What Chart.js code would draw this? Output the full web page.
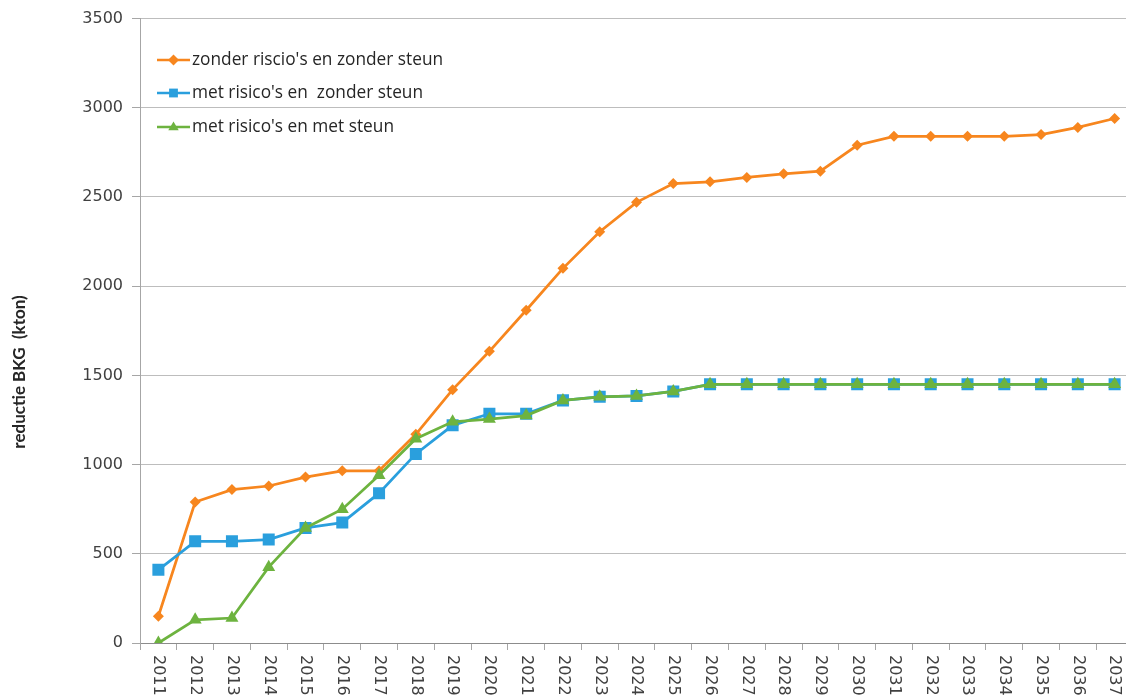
<!DOCTYPE html>
<html lang="nl">
<head>
    <meta charset="UTF-8">
    <title>Reductie BKG</title>
    <script src="https://cdn.jsdelivr.net/npm/chart.js"></script>
    <style>
        body {
            margin: 0;
            padding: 0;
            background: #fff;
            overflow: hidden;
        }
        #wrap {
            width: 1126px;
            height: 696px;
            overflow: hidden;
            position: relative;
        }
    </style>
</head>
<body>
    <!-- plot runs past the right edge, as in the cropped original -->
    <div id="wrap"><canvas id="bkgChart" width="1133" height="696"></canvas></div>
    <script>
        const years = ['2011', '2012', '2013', '2014', '2015', '2016', '2017', '2018', '2019', '2020',
            '2021', '2022', '2023', '2024', '2025', '2026', '2027', '2028', '2029', '2030',
            '2031', '2032', '2033', '2034', '2035', '2036', '2037'];
        const zonderRisicoZonderSteun = [150, 790, 860, 880, 930, 965, 965, 1170, 1420, 1635,
            1865, 2100, 2305, 2470, 2575, 2585, 2610, 2630, 2645, 2790,
            2840, 2840, 2840, 2840, 2850, 2890, 2940];
        const metRisicoZonderSteun = [410, 570, 570, 580, 645, 675, 840, 1060, 1220, 1285,
            1285, 1360, 1380, 1385, 1410, 1450, 1450, 1450, 1450, 1450,
            1450, 1450, 1450, 1450, 1450, 1450, 1450];
        const metRisicoMetSteun = [0, 130, 140, 425, 645, 750, 940, 1145, 1240, 1255,
            1275, 1360, 1380, 1385, 1410, 1450, 1450, 1450, 1450, 1450,
            1450, 1450, 1450, 1450, 1450, 1450, 1450];
        const yMax = 3500;
        const yStep = 500;

        const seriesLabels = ["zonder riscio's en zonder steun", "met risico's en  zonder steun", "met risico's en met steun"];
        const orange = '#F7861E';
        const blue = '#2A9FDD';
        const green = '#6DB33F';

        const textColor = '#404040';
        const tickFont = '16px "DejaVu Sans"';

        function drawMarker(ctx, style, x, y, r, color) {
            ctx.fillStyle = color;
            ctx.beginPath();
            if (style === 'rectRot') {
                ctx.moveTo(x, y - r); ctx.lineTo(x + r, y); ctx.lineTo(x, y + r); ctx.lineTo(x - r, y);
            } else if (style === 'rect') {
                ctx.rect(x - r * 0.8, y - r * 0.8, r * 1.6, r * 1.6);
            } else {
                ctx.moveTo(x, y - r); ctx.lineTo(x + r * 0.95, y + r * 0.6); ctx.lineTo(x - r * 0.95, y + r * 0.6);
            }
            ctx.closePath();
            ctx.fill();
        }

        // x labels (rotated clockwise), y title and legend inside the plot
        const extras = {
            id: 'extras',
            afterDraw(chart) {
                const ctx = chart.ctx;
                const xs = chart.scales.x;
                const area = chart.chartArea;
                ctx.save();
                ctx.font = tickFont;
                ctx.fillStyle = textColor;
                ctx.textAlign = 'left';
                ctx.textBaseline = 'middle';
                years.forEach((yr, i) => {
                    ctx.save();
                    ctx.translate(xs.getPixelForValue(i), area.bottom + 12);
                    ctx.rotate(Math.PI / 2);
                    ctx.fillText(yr, 0, 0);
                    ctx.restore();
                });

                ctx.save();
                ctx.font = 'bold 17px Lato';
                ctx.fillStyle = '#262626';
                ctx.textAlign = 'center';
                ctx.textBaseline = 'middle';
                ctx.translate(20, 372);
                ctx.rotate(-Math.PI / 2);
                ctx.fillText('reductie BKG  (kton)', 0, 0);
                ctx.restore();

                const legendY = [60, 93, 127];
                ctx.font = '17.3px "Open Sans"';
                chart.data.datasets.forEach((ds, i) => {
                    const y = legendY[i];
                    ctx.strokeStyle = ds.borderColor;
                    ctx.lineWidth = 2.5;
                    ctx.beginPath();
                    ctx.moveTo(157, y);
                    ctx.lineTo(190, y);
                    ctx.stroke();
                    drawMarker(ctx, ds.pointStyle, 173.5, y, 5.5, ds.borderColor);
                    ctx.fillStyle = '#262626';
                    ctx.textAlign = 'left';
                    ctx.fillText(ds.label, 192, y);
                });
                ctx.restore();
            }
        };

        const ctx = document.getElementById('bkgChart').getContext('2d');
        new Chart(ctx, {
            type: 'line',
            data: {
                labels: years,
                datasets: [{
                    label: seriesLabels[0],
                    data: zonderRisicoZonderSteun,
                    borderColor: orange,
                    backgroundColor: orange,
                    pointStyle: 'rectRot',
                    pointRadius: 5.5,
                    order: 2
                }, {
                    label: seriesLabels[1],
                    data: metRisicoZonderSteun,
                    borderColor: blue,
                    backgroundColor: blue,
                    pointStyle: 'rect',
                    pointRadius: 8.5,
                    order: 1
                }, {
                    label: seriesLabels[2],
                    data: metRisicoMetSteun,
                    borderColor: green,
                    backgroundColor: green,
                    pointStyle: 'triangle',
                    pointRadius: 7.5,
                    order: 0
                }]
            },
            options: {
                responsive: false,
                animation: false,
                elements: {
                    line: { borderWidth: 2.75, tension: 0 },
                    point: { borderWidth: 0, hoverRadius: 6 }
                },
                layout: {
                    autoPadding: false,
                    padding: { top: 17, right: 0, bottom: 0, left: 0 }
                },
                plugins: {
                    legend: { display: false },
                    tooltip: { enabled: false }
                },
                scales: {
                    x: {
                        offset: true,
                        grid: {
                            offset: true,
                            drawOnChartArea: false,
                            drawTicks: true,
                            tickLength: 7,
                            tickColor: '#A6A6A6'
                        },
                        border: { color: '#8C8C8C', width: 1 },
                        ticks: {
                            display: false,
                            autoSkip: false,
                            maxRotation: 0,
                            minRotation: 0
                        },
                        afterFit(scale) { scale.height = 53; }
                    },
                    y: {
                        min: 0,
                        max: yMax,
                        ticks: {
                            stepSize: yStep,
                            color: textColor,
                            font: { family: 'DejaVu Sans', size: 16 },
                            padding: 9,
                            callback: (v) => String(v)
                        },
                        grid: {
                            color: '#BDBDBD',
                            tickLength: 8,
                            tickColor: '#A6A6A6'
                        },
                        border: { color: '#A6A6A6', width: 1 },
                        afterFit(scale) { scale.width = 140; }
                    }
                }
            },
            plugins: [extras]
        });
    </script>
</body>
</html>
